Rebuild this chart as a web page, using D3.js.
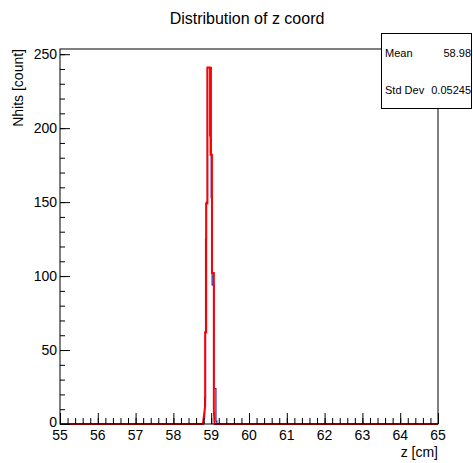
<!DOCTYPE html>
<html>
<head>
<meta charset="utf-8">
<script src="https://cdn.jsdelivr.net/npm/d3@7"></script>
<style>
  body { margin: 0; background: #fff; }
  svg { display: block; font-family: "Liberation Sans", Arial, sans-serif; }
</style>
</head>
<body>
<svg id="canvas"></svg>
<script>
// z distribution, ROOT style histogram

// blue histogram: bin edges [cm] and counts per bin
let blueEdges = [55, 58.8, 58.825, 58.85, 58.875, 58.9, 59.0, 59.025, 59.075, 59.125, 59.15, 65]
let blueCounts = [0, 4, 18, 125, 150, 241, 153, 94, 24, 2, 0]

// red curve: points (z, count)
let redZ = [55, 58.78, 58.84, 58.84, 58.866, 58.866, 58.9, 58.9, 58.97, 58.97, 58.985, 58.985, 59.02, 59.02, 59.07, 59.07, 59.09, 65]
let redN = [0, 0, 12, 62, 62, 149, 149, 241, 241, 195, 195, 182, 182, 102, 102, 9, 0, 0]

let xTicks = [55, 56, 57, 58, 59, 60, 61, 62, 63, 64, 65]
let yTicks = [0, 50, 100, 150, 200, 250]

let statNames = ['Mean', 'Std Dev']
let statValues = ['58.98', '0.05245']

let width = 473
let height = 463
let frame = { left: 60, right: 438, top: 49, bottom: 424 }

let svg = d3.select('#canvas')
            .attr('width', width)
            .attr('height', height)

let xScale = d3.scaleLinear()
               .domain([55, 65])
               .range([frame.left, frame.right])

let yScale = d3.scaleLinear()
               .domain([0, 253.5])
               .range([frame.bottom, frame.top])

// title
svg.append('text')
   .attr('x', 247)
   .attr('y', 24)
   .attr('text-anchor', 'middle')
   .style('font-size', '16px')
   .text('Distribution of z coord')

// histograms
let bluePoints = blueEdges.map((e, i) => [e, i < blueCounts.length ? blueCounts[i] : blueCounts[blueCounts.length - 1]])
let stepLine = d3.line()
                 .x(d => xScale(d[0]))
                 .y(d => yScale(d[1]))
                 .curve(d3.curveStepAfter)

svg.append('path')
   .attr('d', stepLine(bluePoints))
   .attr('fill', 'none')
   .attr('stroke', '#2020a8')
   .attr('stroke-width', 1.2)

let redLine = d3.line()
                .x((d, i) => xScale(redZ[i]))
                .y(d => yScale(d))

svg.append('path')
   .attr('d', redLine(redN))
   .attr('fill', 'none')
   .attr('stroke', '#ff0000')
   .attr('stroke-width', 2)

// frame
svg.append('rect')
   .attr('x', frame.left)
   .attr('y', frame.top)
   .attr('width', frame.right - frame.left)
   .attr('height', frame.bottom - frame.top)
   .attr('fill', 'none')
   .attr('stroke', '#000')
   .attr('stroke-width', 1)

// x axis (ticks point up, inside)
let xAxis = d3.axisTop(xScale)
              .tickValues(xTicks)
              .tickSize(11)
              .tickFormat('')
let xMinor = d3.axisTop(xScale)
               .tickValues(d3.range(55, 65.001, 0.2))
               .tickSize(6)
               .tickFormat('')

svg.append('g')
   .attr('transform', `translate(0,${frame.bottom})`)
   .call(xMinor)
   .call(g => g.select('.domain').remove())
svg.append('g')
   .attr('transform', `translate(0,${frame.bottom})`)
   .call(xAxis)
   .call(g => g.select('.domain').remove())

svg.selectAll('.xlabel')
   .data(xTicks)
   .enter()
   .append('text')
   .attr('class', 'xlabel')
   .attr('x', d => xScale(d))
   .attr('y', 440)
   .attr('text-anchor', 'middle')
   .style('font-size', '14px')
   .text(d => d)

svg.append('text')
   .attr('x', frame.right)
   .attr('y', 457)
   .attr('text-anchor', 'end')
   .style('font-size', '14px')
   .text('z [cm]')

// y axis (ticks point right, inside)
let yAxis = d3.axisRight(yScale)
              .tickValues(yTicks)
              .tickSize(10)
              .tickFormat('')
let yMinor = d3.axisRight(yScale)
               .tickValues(d3.range(0, 251, 10))
               .tickSize(5)
               .tickFormat('')

svg.append('g')
   .attr('transform', `translate(${frame.left},0)`)
   .call(yMinor)
   .call(g => g.select('.domain').remove())
svg.append('g')
   .attr('transform', `translate(${frame.left},0)`)
   .call(yAxis)
   .call(g => g.select('.domain').remove())

svg.selectAll('.ylabel')
   .data(yTicks)
   .enter()
   .append('text')
   .attr('class', 'ylabel')
   .attr('x', 57)
   .attr('y', d => yScale(d) + (d === 0 ? 3 : 5))
   .attr('text-anchor', 'end')
   .style('font-size', '14px')
   .text(d => d)

svg.append('text')
   .attr('transform', 'translate(23,49) rotate(-90)')
   .attr('text-anchor', 'end')
   .style('font-size', '14px')
   .text('Nhits [count]')

// stats box
svg.append('rect')
   .attr('x', 381.5)
   .attr('y', 33.5)
   .attr('width', 90)
   .attr('height', 75)
   .attr('fill', '#fff')
   .attr('stroke', '#000')
   .attr('stroke-width', 1)

statNames.forEach((name, i) => {
  svg.append('text')
     .attr('x', 385)
     .attr('y', 57 + i * 37)
     .style('font-size', '11px')
     .text(name)
  svg.append('text')
     .attr('x', 471)
     .attr('y', 57 + i * 37)
     .attr('text-anchor', 'end')
     .style('font-size', '11px')
     .text(statValues[i])
})
</script>
</body>
</html>
